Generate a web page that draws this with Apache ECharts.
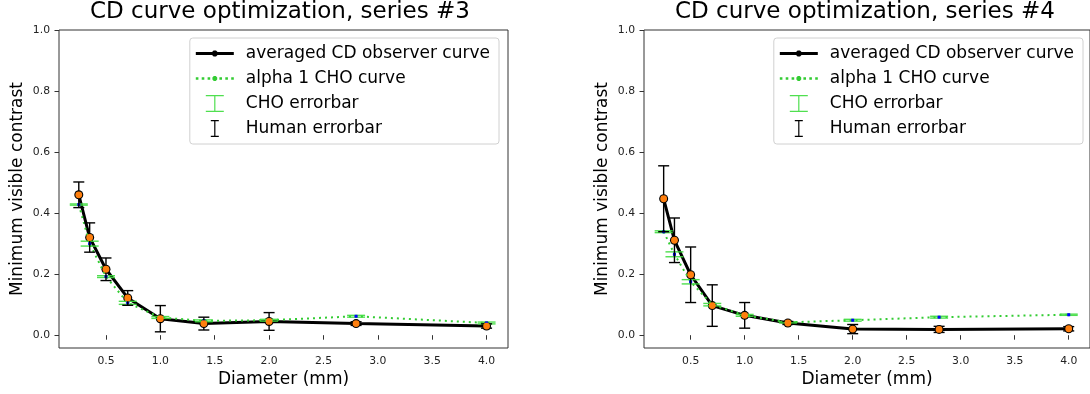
<!DOCTYPE html>
<html>
<head>
<meta charset="utf-8">
<script src="https://cdn.jsdelivr.net/npm/echarts@6/dist/echarts.min.js"></script>
<style>
  html, body { margin: 0; padding: 0; background: #fff; }
  #chart { width: 1090px; height: 394px; }
</style>
</head>
<body>
<div id="chart"></div>
<script>
// diameters (mm), shared by both panels
const diameters = [0.25, 0.35, 0.5, 0.7, 1.0, 1.4, 2.0, 2.8, 4.0];

// series #3
const human3 = [0.46, 0.32, 0.216, 0.122, 0.054, 0.038, 0.045, 0.038, 0.030];
const humanErr3 = [0.042, 0.048, 0.037, 0.024, 0.043, 0.021, 0.029, 0.006, 0.007];
const cho3 = [0.428, 0.300, 0.192, 0.106, 0.058, 0.047, 0.049, 0.062, 0.040];
const choErr3 = [0.002, 0.008, 0.003, 0.005, 0.003, 0.003, 0.003, 0.003, 0.003];

// series #4
const human4 = [0.447, 0.311, 0.198, 0.097, 0.065, 0.040, 0.020, 0.019, 0.021];
const humanErr4 = [0.108, 0.073, 0.091, 0.068, 0.042, 0.005, 0.015, 0.010, 0.007];
const cho4 = [0.339, 0.265, 0.175, 0.100, 0.065, 0.042, 0.049, 0.059, 0.067];
const choErr4 = [0.003, 0.008, 0.007, 0.004, 0.003, 0.002, 0.003, 0.003, 0.002];

const xTicks = [0.5, 1.0, 1.5, 2.0, 2.5, 3.0, 3.5, 4.0];
const yTicks = [0.0, 0.2, 0.4, 0.6, 0.8, 1.0];
const titles = ["CD curve optimization, series #3", "CD curve optimization, series #4"];

const FONT = "DejaVu Sans";
const GREEN = "#33cc33";
const CAP_GREEN = "rgba(60,220,60,0.9)";

const pairs = (ys) => diameters.map((x, i) => [x, ys[i]]);
const triples = (ys, es) => diameters.map((x, i) => [x, ys[i], es[i]]);

function errRender(capHalf, stroke, lw, marker) {
  return function (params, api) {
    const x = api.value(0), y = api.value(1), e = api.value(2);
    const p = api.coord([x, y]);
    const hi = api.coord([x, y + e]);
    const lo = api.coord([x, y - e]);
    const st = { stroke: stroke, lineWidth: lw };
    const children = [
      { type: "line", shape: { x1: p[0], y1: hi[1], x2: p[0], y2: lo[1] }, style: st },
      { type: "line", shape: { x1: p[0] - capHalf, y1: hi[1], x2: p[0] + capHalf, y2: hi[1] }, style: st },
      { type: "line", shape: { x1: p[0] - capHalf, y1: lo[1], x2: p[0] + capHalf, y2: lo[1] }, style: st },
    ];
    if (marker === "human") {
      children.push({ type: "circle", shape: { cx: p[0], cy: p[1], r: 3.4 }, style: { fill: "#ff7f0e" } });
    } else {
      children.push({ type: "rect", shape: { x: p[0] - 1.5, y: p[1] - 1.5, width: 3, height: 3 }, style: { fill: "#0000ff" } });
    }
    return { type: "group", children: children };
  };
}

const chart = echarts.init(document.getElementById("chart"));

const grids = [
  { left: 59, top: 30, width: 449, height: 318 },
  { left: 644, top: 30, width: 449, height: 318 },
];

const xAxis = [], yAxis = [], series = [];
const sets = [
  { human: human3, humanErr: humanErr3, cho: cho3, choErr: choErr3 },
  { human: human4, humanErr: humanErr4, cho: cho4, choErr: choErr4 },
];

sets.forEach((s, k) => {
  xAxis.push({
    type: "value", gridIndex: k, min: 0.068, max: 4.197,
    name: "Diameter (mm)", nameLocation: "middle", nameGap: 22,
    nameTextStyle: { fontFamily: FONT, fontSize: 17, color: "#000" },
    axisLine: { show: false },
    splitLine: { show: false },
    axisTick: { show: true, inside: false, length: 4.5, customValues: xTicks, lineStyle: { color: "#333" } },
    axisLabel: { customValues: xTicks, margin: 7.5, fontFamily: FONT, fontSize: 10.8, color: "#222",
      formatter: (v) => v.toFixed(1) },
  });
  yAxis.push({
    type: "value", gridIndex: k, min: -0.042, max: 1.0,
    name: "Minimum visible contrast", nameLocation: "middle", nameGap: 33,
    nameTextStyle: { fontFamily: FONT, fontSize: 17, color: "#000" },
    axisLine: { show: false },
    splitLine: { show: false },
    axisTick: { show: true, inside: false, length: 4.5, customValues: yTicks, lineStyle: { color: "#333" } },
    axisLabel: { customValues: yTicks, margin: 9, fontFamily: FONT, fontSize: 10.8, color: "#222",
      formatter: (v) => v.toFixed(1) },
  });

  series.push({
    name: "averaged CD observer curve", type: "line", xAxisIndex: k, yAxisIndex: k, z: 2,
    data: pairs(s.human), symbol: "circle", symbolSize: 9,
    itemStyle: { color: "#000" }, lineStyle: { color: "#000", width: 3 },
    animation: false,
  });
  series.push({
    name: "alpha 1 CHO curve", type: "line", xAxisIndex: k, yAxisIndex: k, z: 3,
    data: pairs(s.cho), symbol: "circle", symbolSize: 3,
    itemStyle: { color: GREEN }, lineStyle: { color: GREEN, width: 2, type: [2, 4] },
    animation: false,
  });
  series.push({
    name: "CHO errorbar", type: "custom", xAxisIndex: k, yAxisIndex: k, z: 4,
    data: triples(s.cho, s.choErr), encode: { x: 0, y: 1 },
    itemStyle: { color: CAP_GREEN },
    renderItem: errRender(9, CAP_GREEN, 1.4, "cho"),
    animation: false,
  });
  series.push({
    name: "Human errorbar", type: "custom", xAxisIndex: k, yAxisIndex: k, z: 5,
    data: triples(s.human, s.humanErr), encode: { x: 0, y: 1 },
    itemStyle: { color: "#000" },
    renderItem: errRender(5.5, "#000", 1.4, "human"),
    animation: false,
  });
});

// legend handles drawn as filled paths
const solidLine = "path://M0,5H38V8H0Z M21.96,7.72L20.22,9.46L17.78,9.46L16.04,7.72L16.04,5.28L17.78,3.54L20.22,3.54L21.96,5.28Z";
const dottedLine = "path://M0,5.3H2.6V7.7H0Z M5.9,5.3H8.5V7.7H5.9Z M11.8,5.3H14.4V7.7H11.8Z M23.6,5.3H26.2V7.7H23.6Z M29.5,5.3H32.1V7.7H29.5Z M35.4,5.3H38V7.7H35.4Z M21.4,7.5L20,8.9L18,8.9L16.6,7.5L16.6,5.5L18,4.1L20,4.1L21.4,5.5Z";
const iBeamWide = "path://M0,0H18V1.3H9.6V15.7H18V17H0V15.7H8.4V1.3H0Z";
const iBeamNarrow = "path://M0,0H8V1.3H4.6V15.7H8V17H0V15.7H3.4V1.3H0Z";

function legendFor(right) {
  return {
    orient: "vertical", right: right, top: 38,
    selectedMode: false,
    padding: [7, 9, 7, 6],
    itemWidth: 38, itemHeight: 17, itemGap: 8,
    borderColor: "#d0d0d0", borderWidth: 1, borderRadius: 3,
    backgroundColor: "rgba(255,255,255,0.8)",
    textStyle: { fontFamily: FONT, fontSize: 17, color: "#000", padding: [0, 0, 0, 7] },
    data: [
      { name: "averaged CD observer curve", icon: solidLine, itemStyle: { color: "#000" } },
      { name: "alpha 1 CHO curve", icon: dottedLine, itemStyle: { color: GREEN } },
      { name: "CHO errorbar", icon: iBeamWide, itemStyle: { color: CAP_GREEN } },
      { name: "Human errorbar", icon: iBeamNarrow, itemStyle: { color: "#000" } },
    ],
  };
}

chart.setOption({
  animation: false,
  title: titles.map((t, k) => ({
    text: t, left: k === 0 ? 90 : 675, top: 1, padding: 0,
    textStyle: { fontFamily: FONT, fontSize: 23, fontWeight: "normal", color: "#000" },
  })),
  legend: [legendFor(1090 - 499), legendFor(7)],
  grid: grids.map((g) => Object.assign({ show: true, borderColor: "#333", borderWidth: 1, backgroundColor: "transparent" }, g)),
  xAxis: xAxis,
  yAxis: yAxis,
  series: series,
});
</script>
</body>
</html>
